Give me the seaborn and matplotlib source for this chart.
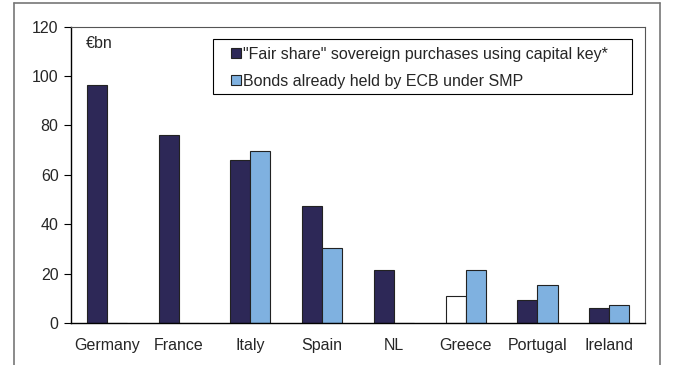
import matplotlib
matplotlib.use("Agg")
import matplotlib.pyplot as plt
from matplotlib.patches import Patch, Rectangle
from matplotlib.lines import Line2D
import pandas as pd
import seaborn as sns

countries = ["Germany", "France", "Italy", "Spain", "NL", "Greece", "Portugal", "Ireland"]
fair_share = [96.4, 76.0, 65.9, 47.3, 21.4, 10.9, 9.3, 6.1]
smp_held = [0.0, 0.0, 69.5, 30.2, 0.0, 21.4, 15.4, 7.5]
series_names = ['"Fair share" sovereign purchases using capital key*',
                "Bonds already held by ECB under SMP"]
y_ticks = [0, 20, 40, 60, 80, 100, 120]

dark = "#2D2857"
light = "#7FB1E0"
fs = 11.5

df = pd.DataFrame({
    "country": countries * 2,
    "value": fair_share + smp_held,
    "series": [series_names[0]] * len(countries) + [series_names[1]] * len(countries),
})

sns.set_style("white")
plt.rcParams["font.family"] = ["Liberation Sans", "DejaVu Sans"]

fig = plt.figure(figsize=(6.73, 3.65), dpi=100)
ax = fig.add_axes([0.1055, 0.115, 0.853, 0.812])

sns.barplot(data=df, x="country", y="value", hue="series", order=countries,
            hue_order=series_names, palette=[dark, light], width=0.56, gap=0,
            edgecolor="#222222", linewidth=0.8, saturation=1, legend=False, ax=ax)

# Greece's capital-key bar is shown as an outline only
ax.patches[countries.index("Greece")].set_facecolor("white")

ax.set_xlim(-0.5, len(countries) - 0.5)
ax.set_ylim(0, 120)
ax.set_yticks(y_ticks)
ax.set_xlabel("")
ax.set_ylabel("")
ax.tick_params(axis="y", which="both", left=True, length=5, width=0.8,
               direction="out", labelsize=fs, pad=4, color="black")
ax.tick_params(axis="x", bottom=False, labelsize=fs, pad=7)

for side in ["left", "bottom"]:
    ax.spines[side].set_color("black")
    ax.spines[side].set_linewidth(1.0)
for side in ["top", "right"]:
    ax.spines[side].set_color("#555555")
    ax.spines[side].set_linewidth(0.8)

ax.text(0.026, 0.97, "€bn", transform=ax.transAxes, fontsize=fs,
        ha="left", va="top")

# legend entries, with a separately drawn box around them
handles = [Patch(facecolor=dark, edgecolor="#222222", linewidth=0.8),
           Patch(facecolor=light, edgecolor="#222222", linewidth=0.8)]
leg = ax.legend(handles, series_names, loc="upper left",
                bbox_to_anchor=(0.279, 0.932), fontsize=fs, frameon=False,
                handlelength=0.6, handleheight=0.6, handletextpad=0.15,
                borderpad=0, labelspacing=0.75, borderaxespad=0)
ax.add_patch(Rectangle((0.247, 0.774), 0.977 - 0.247, 0.959 - 0.774,
                       transform=ax.transAxes, facecolor="white",
                       edgecolor="black", linewidth=0.8, zorder=4))
leg.set_zorder(5)

# outer frame around the chart (open at the bottom)
frame_kw = dict(color="#777777", linewidth=1.2, transform=fig.transFigure)
fig.add_artist(Line2D([14 / 673, 14 / 673], [0, 1 - 3 / 365], **frame_kw))
fig.add_artist(Line2D([14 / 673, 660 / 673], [1 - 3 / 365, 1 - 3 / 365], **frame_kw))
fig.add_artist(Line2D([660 / 673, 660 / 673], [0, 1 - 3 / 365], **frame_kw))

fig.savefig("out.png", dpi=100)
